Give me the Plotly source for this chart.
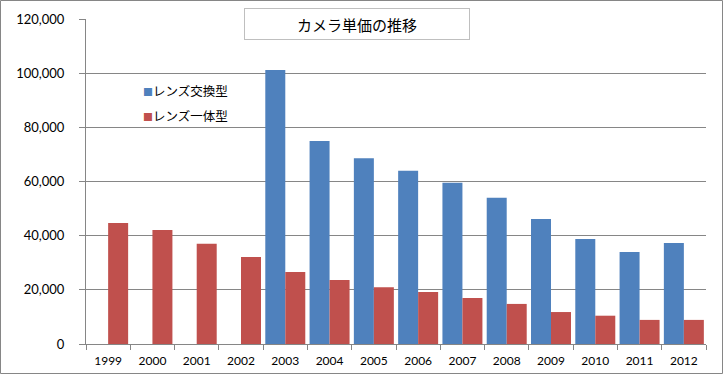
import plotly.graph_objects as go

years = ["1999", "2000", "2001", "2002", "2003", "2004", "2005", "2006",
         "2007", "2008", "2009", "2010", "2011", "2012"]
interchangeable = [None, None, None, None, 101200, 75000, 68600, 64000,
                   59500, 54000, 46200, 38800, 34000, 37300]
fixed_lens = [44700, 42100, 37000, 32100, 26600, 23600, 21000, 19200,
              17000, 14800, 11800, 10450, 8900, 8900]
y_ticks = [0, 20000, 40000, 60000, 80000, 100000, 120000]

title_text = "カメラ単価の推移"
name_a = "レンズ交換型"
name_b = "レンズ一体型"
color_a = "#4F81BD"
color_b = "#C0504D"

W, H = 726, 376
L, R, T, B = 86, 20, 19, 32
pw, ph = W - L - R, H - T - B

def px(x):
    return (x - L) / pw

def py(y):
    return (H - B - y) / ph

fig = go.Figure()
fig.add_trace(go.Bar(x=years, y=interchangeable, name=name_a,
                     marker=dict(color=color_a, line=dict(width=0))))
fig.add_trace(go.Bar(x=years, y=fixed_lens, name=name_b,
                     marker=dict(color=color_b, line=dict(width=0))))

jp = "Noto Sans CJK JP"
num = "Lato, Liberation Sans, sans-serif"

legend_items = []
for i, (nm, col) in enumerate([(name_a, color_a), (name_b, color_b)]):
    legend_items.append(dict(
        text=f"<span style='color:{col};font-size:10px'>■</span>{nm}",
        xref="paper", yref="paper", x=px(141), y=py(90.5 + 25 * i),
        xanchor="left", yanchor="middle", showarrow=False,
        font=dict(family=jp, size=12.5, color="#000000")))

fig.update_layout(
    width=W, height=H,
    margin=dict(l=L, r=R, t=T, b=B, pad=0, autoexpand=False),
    paper_bgcolor="white", plot_bgcolor="white",
    barmode="group", bargap=0.097, bargroupgap=0,
    showlegend=False,
    xaxis=dict(type="category", showgrid=False, showline=True,
               linecolor="#868686", linewidth=1, automargin=False,
               ticks="outside", ticklen=5, tickcolor="#868686",
               tickson="boundaries", ticklabelstandoff=6,
               tickfont=dict(family=num, size=12, color="#000000")),
    yaxis=dict(range=[0, 120000], tickvals=y_ticks, tickformat=",",
               showgrid=True, gridcolor="#868686", gridwidth=1,
               showline=True, linecolor="#868686", linewidth=1,
               ticks="outside", ticklen=6, tickcolor="#868686",
               zeroline=False, automargin=False,
               tickfont=dict(family=num, size=13, color="#000000"),
               ticklabelstandoff=12),
    shapes=[dict(type="rect", xref="paper", yref="paper",
                 x0=px(0.5), x1=px(722.5), y0=py(0.5), y1=py(373.5),
                 line=dict(color="#868686", width=1), layer="below")],
    annotations=[dict(text=title_text, xref="paper", yref="paper",
                      x=px(357), y=py(24), xanchor="center", yanchor="middle",
                      showarrow=False, bgcolor="white",
                      bordercolor="#BFBFBF", borderwidth=1, borderpad=0,
                      width=224, height=30,
                      font=dict(family=jp, size=15, color="#000000"))]
                + legend_items,
)

fig.write_html("out.html", config={"displayModeBar": False},
               post_script="document.body.style.margin='0';document.body.style.overflow='hidden';")
